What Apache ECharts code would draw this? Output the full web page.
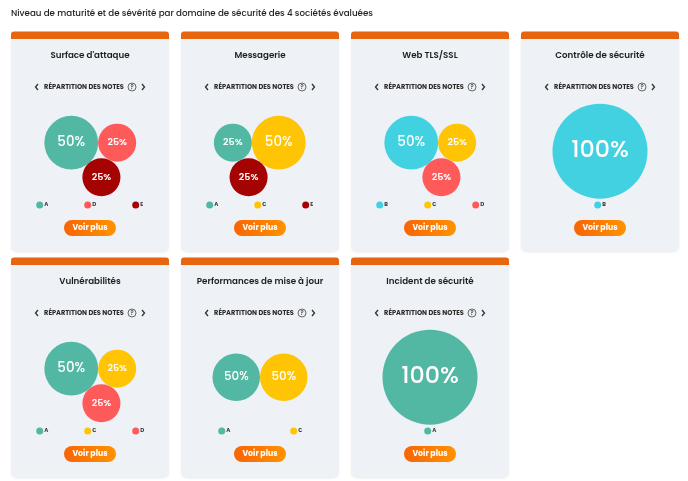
<!DOCTYPE html>
<html><head><meta charset="utf-8">
<script src="https://cdn.jsdelivr.net/npm/echarts@6/dist/echarts.min.js"></script>
<style>html,body{margin:0;padding:0;background:#fff}#c{width:688px;height:481px}</style>
</head><body><div id="c"></div>
<script>
// ---- data ----
const pageTitle = "Niveau de maturité et de sévérité par domaine de sécurité des 4 sociétés évaluées";
const domains = ["Surface d'attaque", "Messagerie", "Web TLS/SSL", "Contrôle de sécurité", "Vulnérabilités", "Performances de mise à jour", "Incident de sécurité"];
const gradesSurface = ["A", "D", "E"];      const valuesSurface = [50, 25, 25];
const gradesMessagerie = ["A", "C", "E"];   const valuesMessagerie = [25, 50, 25];
const gradesWeb = ["B", "C", "D"];          const valuesWeb = [50, 25, 25];
const gradesControle = ["B"];               const valuesControle = [100];
const gradesVuln = ["A", "C", "D"];         const valuesVuln = [50, 25, 25];
const gradesPerf = ["A", "C"];              const valuesPerf = [50, 50];
const gradesIncident = ["A"];               const valuesIncident = [100];
const subHeader = "RÉPARTITION DES NOTES";
const buttonText = "Voir plus";

const cardGrades = [gradesSurface, gradesMessagerie, gradesWeb, gradesControle, gradesVuln, gradesPerf, gradesIncident];
const cardValues = [valuesSurface, valuesMessagerie, valuesWeb, valuesControle, valuesVuln, valuesPerf, valuesIncident];

// ---- style ----
const gradeColors = {A: '#52b8a3', B: '#41d1e0', C: '#ffc403', D: '#ff5a5a', E: '#a50202'};
const FONT = 'Poppins, Inter, "Noto Sans", sans-serif';
const cardLefts = [11, 181, 351, 521];
const rowTops = [31.5, 257.5];
const CARD_W = 158, CARD_H = 220;
const PACK_R = 47.5;

// ---- circle packing (d3-style packSiblings + enclose) ----
function place(b, a, c) {
  const dx = b.x - a.x, dy = b.y - a.y, d2 = dx * dx + dy * dy;
  let x, y, a2 = a.r + c.r, b2 = b.r + c.r;
  a2 *= a2; b2 *= b2;
  if (a2 > b2) {
    x = (d2 + b2 - a2) / (2 * d2);
    y = Math.sqrt(Math.max(0, b2 / d2 - x * x));
    c.x = b.x - x * dx - y * dy; c.y = b.y - x * dy + y * dx;
  } else {
    x = (d2 + a2 - b2) / (2 * d2);
    y = Math.sqrt(Math.max(0, a2 / d2 - x * x));
    c.x = a.x + x * dx - y * dy; c.y = a.y + x * dy + y * dx;
  }
}
function enc2(a, b) {
  const x21 = b.x - a.x, y21 = b.y - a.y, r21 = b.r - a.r, l = Math.sqrt(x21 * x21 + y21 * y21);
  return {x: (a.x + b.x + x21 / l * r21) / 2, y: (a.y + b.y + y21 / l * r21) / 2, r: (l + a.r + b.r) / 2};
}
function enc3(a, b, c) {
  const x1 = a.x, y1 = a.y, r1 = a.r, x2 = b.x, y2 = b.y, r2 = b.r, x3 = c.x, y3 = c.y, r3 = c.r;
  const a2 = x1 - x2, a3 = x1 - x3, b2 = y1 - y2, b3 = y1 - y3, c2 = r2 - r1, c3 = r3 - r1;
  const d1 = x1 * x1 + y1 * y1 - r1 * r1, d2 = d1 - x2 * x2 - y2 * y2 + r2 * r2, d3 = d1 - x3 * x3 - y3 * y3 + r3 * r3;
  const ab = a3 * b2 - a2 * b3;
  const xa = (b2 * d3 - b3 * d2) / (ab * 2) - x1, xb = (b3 * c2 - b2 * c3) / ab;
  const ya = (a3 * d2 - a2 * d3) / (ab * 2) - y1, yb = (a2 * c3 - a3 * c2) / ab;
  const A = xb * xb + yb * yb - 1, B = 2 * (r1 + xa * xb + ya * yb), C = xa * xa + ya * ya - r1 * r1;
  const r = -(Math.abs(A) > 1e-6 ? (B + Math.sqrt(B * B - 4 * A * C)) / (2 * A) : C / B);
  return {x: x1 + xa + xb * r, y: y1 + ya + yb * r, r: r};
}
function contains(e, c) { const dx = c.x - e.x, dy = c.y - e.y; return Math.sqrt(dx * dx + dy * dy) + c.r <= e.r + 1e-6; }
function packLayout(values) {
  const cs = values.map(v => ({r: Math.sqrt(v), x: 0, y: 0}));
  if (cs.length >= 2) { cs[0].x = -cs[1].r; cs[1].x = cs[0].r; }
  if (cs.length >= 3) place(cs[1], cs[0], cs[2]);
  let e;
  if (cs.length === 1) e = {x: cs[0].x, y: cs[0].y, r: cs[0].r};
  else {
    const cand = [];
    for (let i = 0; i < cs.length; i++) for (let j = i + 1; j < cs.length; j++) cand.push(enc2(cs[i], cs[j]));
    if (cs.length === 3) cand.push(enc3(cs[0], cs[1], cs[2]));
    e = cand.filter(c => cs.every(p => contains(c, p))).sort((p, q) => p.r - q.r)[0];
  }
  const k = PACK_R / e.r;
  return cs.map(c => ({x: (c.x - e.x) * k, y: (c.y - e.y) * k, r: c.r * k}));
}

// ---- build ----
const grids = [], xAxes = [], yAxes = [], series = [], graphics = [];
graphics.push({type: 'text', z: 10, x: 11, y: 14, style: {text: pageTitle, font: '500 8.7px ' + FONT, fill: '#222', verticalAlign: 'middle'}});

cardGrades.forEach((grades, i) => {
  const col = i % 4, row = Math.floor(i / 4);
  const left = cardLefts[col], top = rowTops[row], cx = left + CARD_W / 2;
  // card
  graphics.push({type: 'rect', z: 0, shape: {x: left, y: top, width: CARD_W, height: CARD_H, r: 6},
    style: {fill: '#eef1f6', shadowBlur: 2, shadowColor: 'rgba(0,0,0,0.08)', shadowOffsetY: 1}});
  graphics.push({type: 'rect', z: 1, shape: {x: left, y: top, width: CARD_W, height: 7.5, r: [3, 3, 0, 0]}, style: {fill: '#e8650f'}});
  // titles
  graphics.push({type: 'text', z: 2, x: cx, y: top + 24.8, style: {text: domains[i], font: '600 8.7px ' + FONT, fill: '#1e1e1e', align: 'center', verticalAlign: 'middle'}});
  const sy = top + 55.5;
  graphics.push({type: 'text', z: 2, x: cx - 6, y: sy, style: {text: subHeader, font: '700 6.6px ' + FONT, fill: '#2a2a2a', align: 'center', verticalAlign: 'middle'}});
  graphics.push({type: 'polyline', z: 2, shape: {points: [[left + 27, sy - 3], [left + 24.5, sy], [left + 27, sy + 3]]}, style: {stroke: '#333', lineWidth: 1.3, fill: null}});
  graphics.push({type: 'polyline', z: 2, shape: {points: [[left + 131, sy - 3], [left + 133.5, sy], [left + 131, sy + 3]]}, style: {stroke: '#333', lineWidth: 1.3, fill: null}});
  graphics.push({type: 'circle', z: 2, shape: {cx: left + 121, cy: sy, r: 4}, style: {stroke: '#444', lineWidth: 0.8, fill: null}});
  graphics.push({type: 'text', z: 2, x: left + 121, y: sy + 0.3, style: {text: '?', font: '600 6px ' + FONT, fill: '#444', align: 'center', verticalAlign: 'middle'}});
  // legend (space-around)
  const n = grades.length, LW = 144, ly = top + 173.5;
  grades.forEach((g, j) => {
    const ic = left + 7.7 + LW * (2 * j + 1) / (2 * n);
    graphics.push({type: 'circle', z: 2, shape: {cx: ic - 3, cy: ly, r: 3.5}, style: {fill: gradeColors[g]}});
    graphics.push({type: 'text', z: 2, x: ic + 1.5, y: ly, style: {text: g, font: '700 5.5px ' + FONT, fill: '#333', verticalAlign: 'middle'}});
  });
  // button
  const by = top + 196.5;
  graphics.push({type: 'rect', z: 2, shape: {x: cx - 26, y: by - 8, width: 52, height: 16, r: 8},
    style: {fill: new echarts.graphic.LinearGradient(0, 0, 1, 0, [{offset: 0, color: '#f86405'}, {offset: 1, color: '#ff9300'}])}});
  graphics.push({type: 'text', z: 3, x: cx, y: by, style: {text: buttonText, font: '700 7.8px ' + FONT, fill: '#fff', align: 'center', verticalAlign: 'middle'}});
  // bubbles
  const cy = top + 119.7;
  grids.push({left: cx - PACK_R, top: cy - PACK_R, width: 2 * PACK_R, height: 2 * PACK_R});
  xAxes.push({type: 'value', gridIndex: i, min: -PACK_R, max: PACK_R, show: false});
  yAxes.push({type: 'value', gridIndex: i, min: -PACK_R, max: PACK_R, inverse: true, show: false});
  const lay = packLayout(cardValues[i]);
  series.push({
    type: 'scatter', xAxisIndex: i, yAxisIndex: i, z: 5, silent: true,
    data: lay.map((c, j) => ({
      value: [c.x, c.y, cardValues[i][j]], name: grades[j],
      symbolSize: 2 * c.r,
      itemStyle: {color: gradeColors[grades[j]], opacity: 1},
      label: {fontSize: Math.round(c.r * 0.5 * 10) / 10, fontWeight: c.r < 20 ? 600 : 500}
    })),
    label: {show: true, position: 'inside', color: '#fff', fontFamily: FONT, fontWeight: 500,
      formatter: p => p.value[2] + '%'}
  });
});

const chart = echarts.init(document.getElementById('c'), null, {renderer: 'canvas'});
chart.setOption({animation: false, grid: grids, xAxis: xAxes, yAxis: yAxes, series: series, graphic: graphics});
</script></body></html>
